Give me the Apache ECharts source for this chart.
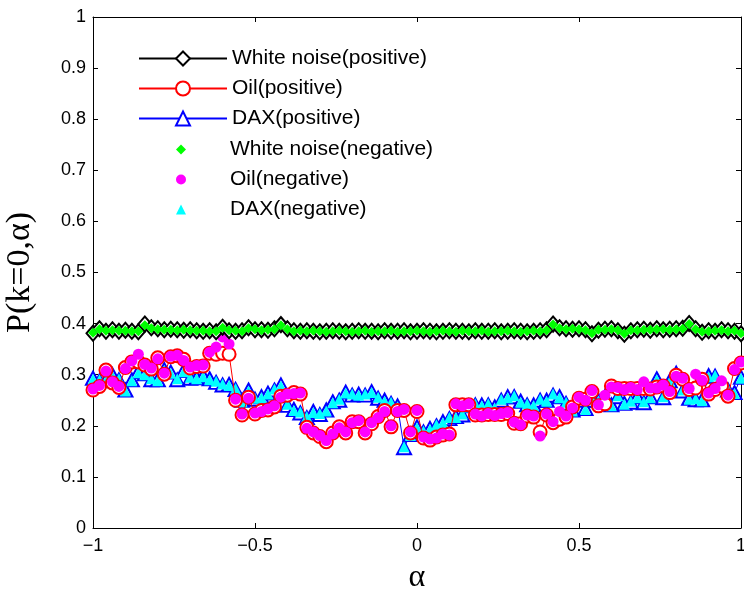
<!DOCTYPE html>
<html>
<head>
<meta charset="utf-8">
<script src="https://cdn.jsdelivr.net/npm/echarts@6/dist/echarts.min.js"></script>
<style>html,body{margin:0;padding:0;background:#fff;}#c{width:744px;height:598px;}</style>
</head>
<body>
<div id="c"></div>
<script>
var alpha = [-1,-0.98,-0.96,-0.94,-0.92,-0.9,-0.88,-0.86,-0.84,-0.82,
-0.8,-0.78,-0.76,-0.74,-0.72,-0.7,-0.68,-0.66,-0.64,-0.62,
-0.6,-0.58,-0.56,-0.54,-0.52,-0.5,-0.48,-0.46,-0.44,-0.42,
-0.4,-0.38,-0.36,-0.34,-0.32,-0.3,-0.28,-0.26,-0.24,-0.22,
-0.2,-0.18,-0.16,-0.14,-0.12,-0.1,-0.08,-0.06,-0.04,-0.02,
0,0.02,0.04,0.06,0.08,0.1,0.12,0.14,0.16,0.18,
0.2,0.22,0.24,0.26,0.28,0.3,0.32,0.34,0.36,0.38,
0.4,0.42,0.44,0.46,0.48,0.5,0.52,0.54,0.56,0.58,
0.6,0.62,0.64,0.66,0.68,0.7,0.72,0.74,0.76,0.78,
0.8,0.82,0.84,0.86,0.88,0.9,0.92,0.94,0.96,0.98,
1];

var whiteNoisePos = [0.381,0.390,0.385,0.388,0.385,0.387,0.385,0.384,0.399,0.392,
0.390,0.388,0.389,0.388,0.387,0.388,0.386,0.385,0.386,0.384,
0.393,0.386,0.385,0.386,0.392,0.388,0.388,0.387,0.390,0.398,
0.390,0.386,0.385,0.386,0.385,0.384,0.385,0.386,0.385,0.384,
0.385,0.386,0.385,0.385,0.384,0.386,0.385,0.385,0.386,0.384,
0.385,0.386,0.385,0.384,0.385,0.386,0.385,0.385,0.384,0.386,
0.385,0.385,0.386,0.384,0.385,0.386,0.385,0.384,0.385,0.386,
0.388,0.399,0.392,0.390,0.389,0.390,0.388,0.380,0.387,0.389,
0.390,0.386,0.379,0.386,0.388,0.389,0.387,0.390,0.388,0.389,
0.390,0.391,0.400,0.390,0.383,0.386,0.385,0.388,0.386,0.385,
0.380];

var whiteNoiseNeg = [0.382,0.389,0.386,0.387,0.386,0.386,0.385,0.385,0.397,0.391,
0.389,0.388,0.388,0.387,0.388,0.387,0.386,0.386,0.385,0.385,
0.392,0.387,0.386,0.385,0.391,0.389,0.387,0.388,0.389,0.397,
0.389,0.385,0.386,0.385,0.386,0.385,0.384,0.385,0.386,0.385,
0.384,0.385,0.386,0.384,0.385,0.385,0.386,0.384,0.385,0.385,
0.386,0.385,0.384,0.385,0.386,0.385,0.384,0.386,0.385,0.385,
0.386,0.384,0.385,0.385,0.386,0.385,0.384,0.385,0.386,0.385,
0.387,0.398,0.391,0.389,0.390,0.389,0.387,0.381,0.388,0.388,
0.389,0.387,0.380,0.387,0.387,0.388,0.388,0.389,0.389,0.388,
0.389,0.390,0.399,0.389,0.384,0.385,0.386,0.387,0.385,0.386,
0.381];

var oilPos = [0.270,0.277,0.309,0.284,0.275,0.314,0.325,0.325,0.319,0.311,
0.333,0.301,0.335,0.337,0.330,0.313,0.316,0.317,0.342,0.340,
0.342,0.340,0.250,0.221,0.256,0.223,0.230,0.231,0.237,0.258,
0.260,0.265,0.262,0.197,0.186,0.179,0.169,0.186,0.198,0.186,
0.208,0.208,0.186,0.204,0.218,0.230,0.198,0.230,0.230,0.186,
0.228,0.176,0.172,0.178,0.182,0.184,0.241,0.241,0.241,0.221,
0.221,0.222,0.222,0.222,0.224,0.205,0.204,0.219,0.217,0.188,
0.221,0.206,0.213,0.217,0.237,0.254,0.252,0.267,0.239,0.243,
0.278,0.273,0.273,0.273,0.273,0.273,0.272,0.276,0.278,0.265,
0.299,0.291,0.271,0.274,0.291,0.262,0.271,0.278,0.258,0.312,
0.323];

var oilNeg = [0.272,0.279,0.307,0.286,0.277,0.312,0.327,0.340,0.320,0.313,
0.331,0.303,0.336,0.338,0.328,0.315,0.318,0.319,0.344,0.354,
0.374,0.360,0.252,0.223,0.254,0.225,0.228,0.233,0.239,0.256,
0.262,0.263,0.264,0.195,0.188,0.181,0.171,0.184,0.196,0.188,
0.206,0.210,0.188,0.206,0.216,0.228,0.200,0.228,0.232,0.188,
0.230,0.178,0.174,0.176,0.184,0.182,0.243,0.239,0.243,0.223,
0.219,0.224,0.220,0.224,0.226,0.207,0.202,0.221,0.219,0.180,
0.223,0.208,0.228,0.219,0.235,0.256,0.250,0.269,0.241,0.260,
0.276,0.275,0.271,0.275,0.271,0.286,0.274,0.274,0.280,0.267,
0.297,0.293,0.273,0.301,0.289,0.264,0.273,0.288,0.260,0.310,
0.325];

var daxPos = [0.293,0.288,0.290,0.300,0.290,0.270,0.290,0.306,0.302,0.290,
0.290,0.310,0.305,0.290,0.308,0.293,0.294,0.298,0.292,0.285,
0.280,0.281,0.271,0.250,0.270,0.252,0.257,0.264,0.270,0.280,
0.240,0.232,0.225,0.216,0.228,0.222,0.231,0.247,0.250,0.266,
0.260,0.262,0.260,0.267,0.254,0.250,0.244,0.239,0.157,0.183,
0.198,0.188,0.195,0.200,0.208,0.214,0.218,0.221,0.239,0.241,
0.241,0.241,0.237,0.250,0.257,0.257,0.248,0.241,0.241,0.250,
0.250,0.260,0.257,0.244,0.231,0.250,0.234,0.250,0.250,0.257,
0.241,0.257,0.244,0.246,0.257,0.245,0.257,0.292,0.255,0.288,
0.303,0.268,0.254,0.251,0.251,0.298,0.297,0.277,0.270,0.265,
0.295];

var daxNeg = [0.291,0.290,0.288,0.298,0.292,0.268,0.288,0.304,0.300,0.292,
0.288,0.308,0.303,0.292,0.306,0.295,0.292,0.296,0.290,0.287,
0.282,0.279,0.273,0.247,0.268,0.254,0.255,0.262,0.272,0.278,
0.242,0.230,0.227,0.218,0.226,0.224,0.229,0.245,0.252,0.264,
0.262,0.260,0.262,0.265,0.256,0.248,0.246,0.237,0.159,0.181,
0.196,0.190,0.193,0.202,0.206,0.216,0.216,0.223,0.237,0.243,
0.239,0.243,0.235,0.252,0.255,0.259,0.246,0.243,0.239,0.252,
0.248,0.262,0.255,0.246,0.229,0.252,0.232,0.252,0.248,0.259,
0.239,0.259,0.242,0.248,0.255,0.247,0.255,0.290,0.257,0.286,
0.301,0.270,0.252,0.253,0.249,0.296,0.299,0.275,0.272,0.263,
0.293];

var yTicks = ['0','0.1','0.2','0.3','0.4','0.5','0.6','0.7','0.8','0.9','1'];
var xTicks = ['\u22121','\u22120.5','0','0.5','1'];

var names = ['White noise(positive)','Oil(positive)','DAX(positive)','White noise(negative)','Oil(negative)','DAX(negative)'];

function pairs(ys){ return alpha.map(function(a,i){ return [a, ys[i]]; }); }

var chart = echarts.init(document.getElementById('c'), null, {renderer:'canvas'});

var axisLine = {show:true, onZero:false, lineStyle:{color:'#000', width:1}};
var sans = 'Liberation Sans, Arial, Helvetica, sans-serif';
var serif = 'Liberation Serif, Times New Roman, serif';

function xLabel(v){
  var idx = Math.round((v + 1) / 0.5);
  return xTicks[idx];
}
function yLabel(v){
  var idx = Math.round(v * 10);
  return yTicks[idx];
}

var legendText = {fontFamily:sans, fontSize:21, color:'#000', lineHeight:21};
var legendText2 = {fontFamily:sans, fontSize:21, color:'#000', lineHeight:21, padding:[0,0,0,39]};

chart.setOption({
  animation:false,
  backgroundColor:'#fff',
  grid:{left:93, right:3, top:17, bottom:70, containLabel:false, outerBoundsMode:'none'},
  legend:[
    {data:names.slice(0,3), orient:'vertical', left:133, top:43, itemWidth:88, itemHeight:17.5, itemGap:9,
     textStyle:legendText, selectedMode:false},
    {data:names.slice(3,6), orient:'vertical', left:171, top:134, itemWidth:10, itemHeight:10, itemGap:9,
     textStyle:legendText2, selectedMode:false}
  ],
  xAxis:[
    {type:'value', min:-1, max:1, interval:0.5, position:'bottom',
     axisLine:axisLine, axisTick:{show:true, inside:true, length:5, lineStyle:{color:'#000'}},
     splitLine:{show:false},
     axisLabel:{formatter:xLabel, fontFamily:sans, fontSize:18, color:'#000', margin:9},
     name:'\u03b1', nameLocation:'middle', nameGap:34,
     nameTextStyle:{fontFamily:serif, fontSize:32, color:'#000'}},
    {type:'value', min:-1, max:1, interval:0.5, position:'top',
     axisLine:axisLine, axisTick:{show:true, inside:true, length:5, lineStyle:{color:'#000'}},
     splitLine:{show:false}, axisLabel:{show:false}}
  ],
  yAxis:[
    {type:'value', min:0, max:1, interval:0.1, position:'left',
     axisLine:axisLine, axisTick:{show:true, inside:true, length:5, lineStyle:{color:'#000'}},
     splitLine:{show:false},
     axisLabel:{formatter:yLabel, fontFamily:sans, fontSize:18, color:'#000', margin:7},
     name:'P(k=0,\u03b1)', nameLocation:'middle', nameGap:56,
     nameTextStyle:{fontFamily:serif, fontSize:34, color:'#000'}},
    {type:'value', min:0, max:1, interval:0.1, position:'right',
     axisLine:axisLine, axisTick:{show:true, inside:true, length:5, lineStyle:{color:'#000'}},
     splitLine:{show:false}, axisLabel:{show:false}}
  ],
  series:[
    {name:names[0], type:'line', data:pairs(whiteNoisePos), z:6,
     symbol:'emptyDiamond', symbolSize:[13,15],
     itemStyle:{color:'#000', borderWidth:1.5}, lineStyle:{color:'#000', width:1}},
    {name:names[1], type:'line', data:pairs(oilPos), z:4,
     symbol:'emptyCircle', symbolSize:13,
     itemStyle:{color:'#ff0000', borderWidth:1.5}, lineStyle:{color:'#ff0000', width:1}},
    {name:names[2], type:'line', data:pairs(daxPos), z:2,
     symbol:'emptyTriangle', symbolSize:[14,13],
     itemStyle:{color:'#0000ff', borderWidth:1.5}, lineStyle:{color:'#0000ff', width:1}},
    {name:names[3], type:'scatter', data:pairs(whiteNoiseNeg), z:7,
     symbol:'diamond', symbolSize:10,
     itemStyle:{color:'#00ff00', opacity:1}},
    {name:names[4], type:'scatter', data:pairs(oilNeg), z:5,
     symbol:'circle', symbolSize:11,
     itemStyle:{color:'#ff00ff', opacity:1}},
    {name:names[5], type:'scatter', data:pairs(daxNeg), z:3,
     symbol:'triangle', symbolSize:11,
     itemStyle:{color:'#00ffff', opacity:1}}
  ]
});
</script>
</body>
</html>
